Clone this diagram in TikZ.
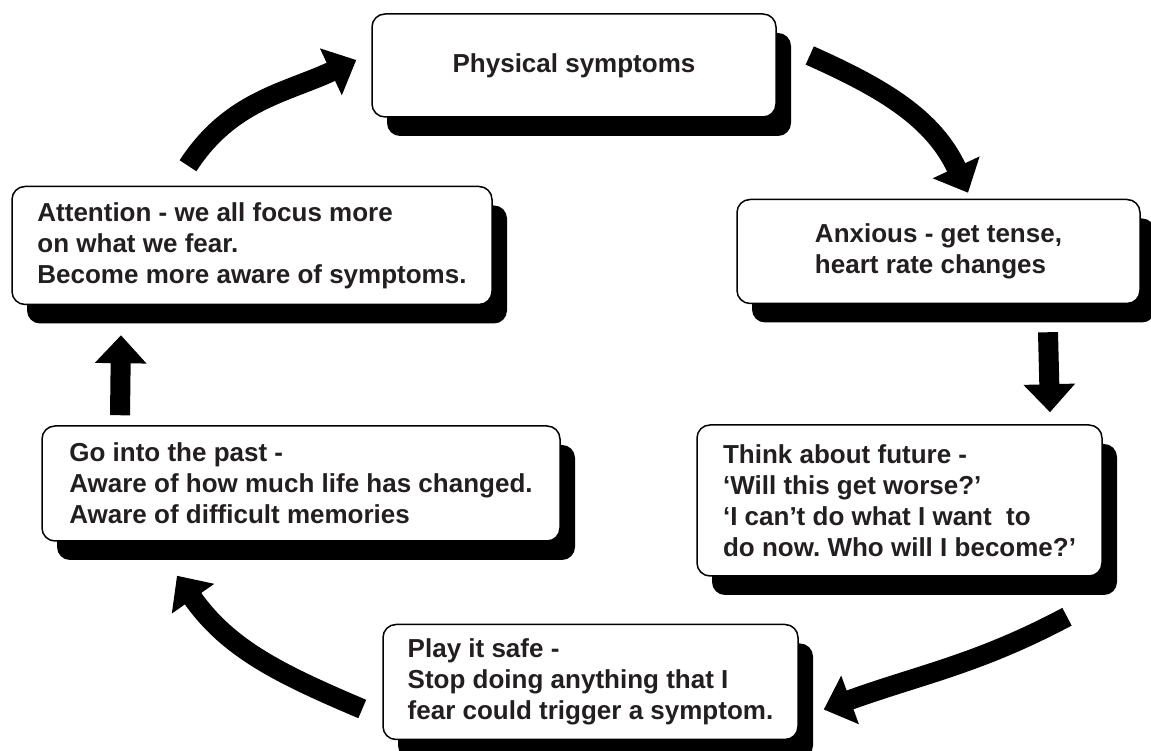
\documentclass[tikz,border=0pt]{standalone}
\usepackage{fontspec}
\setmainfont{Liberation Sans}
\usepackage{xcolor}
\usetikzlibrary{positioning, shadows, arrows.meta}
\definecolor{ink}{HTML}{231F20}
\frenchspacing

\begin{document}
\begin{tikzpicture}[
    x=1pt, y=1pt,
    card/.style={rectangle, rounded corners=13pt, draw, line width=1.5pt, fill=white, align=left, text=ink, inner sep=0pt, font=\bfseries\fontsize{26pt}{31pt}\selectfont, drop shadow={shadow xshift=15pt, shadow yshift=-19pt, fill=black, opacity=1}},
    flow/.style={line width=20pt, -{Triangle[width=50pt, length=28pt]}}
]
\useasboundingbox (0,0) rectangle (1151,751);
\node[card, align=center, minimum width=404pt, minimum height=103pt] (phys) at (574,685.5) {Physical symptoms};
\node[card, minimum width=403pt, minimum height=104pt, below=81pt of phys, xshift=364.5pt] (anx) {Anxious - get tense,\\heart rate changes};
\node[card, minimum width=405pt, minimum height=151pt, below=120pt of anx, xshift=-39pt] (future) {Think about future -\\‘Will this get worse?’\\‘I can’t do what I want~~to\\do now. Who will I become?’};
\node[card, minimum width=415pt, minimum height=115pt, below=47pt of future, xshift=-309pt] (play) {Play it safe -\\Stop doing anything that I\\fear could trigger a symptom.};
\node[card, minimum width=518pt, minimum height=115pt, above=82pt of play, xshift=-289.5pt] (past) {Go into the past -\\Aware of how much life has changed.\\Aware of difficult memories};
\node[card, minimum width=480pt, minimum height=118pt, above=120pt of past, xshift=-49pt] (attn) {Attention - we all focus more\\on what we fear.\\Become more aware of symptoms.};

\draw[flow] ([shift={(-64,20)}]attn.north) to[out=57, in=205] ([shift={(-15,5.5)}]phys.west);
\draw[flow] ([shift={(33,10)}]phys.east) to[out=-24, in=115] ([shift={(29.5,6)}]anx.north);
\draw[flow] ([shift={(109.5,-28)}]anx.south) -- ([shift={(150.5,12)}]future.north);
\draw[flow] ([shift={(167.5,-40)}]future.south) to[out=208, in=20] ([shift={(25,-27.5)}]play.east);
\draw[flow] ([shift={(-20,-27)}]play.west) to[out=157, in=-55] ([shift={(-124,-34)}]past.south);
\draw[flow] ([shift={(-181,10)}]past.north) -- ([shift={(-131,-30)}]attn.south);
\end{tikzpicture}
\end{document}
